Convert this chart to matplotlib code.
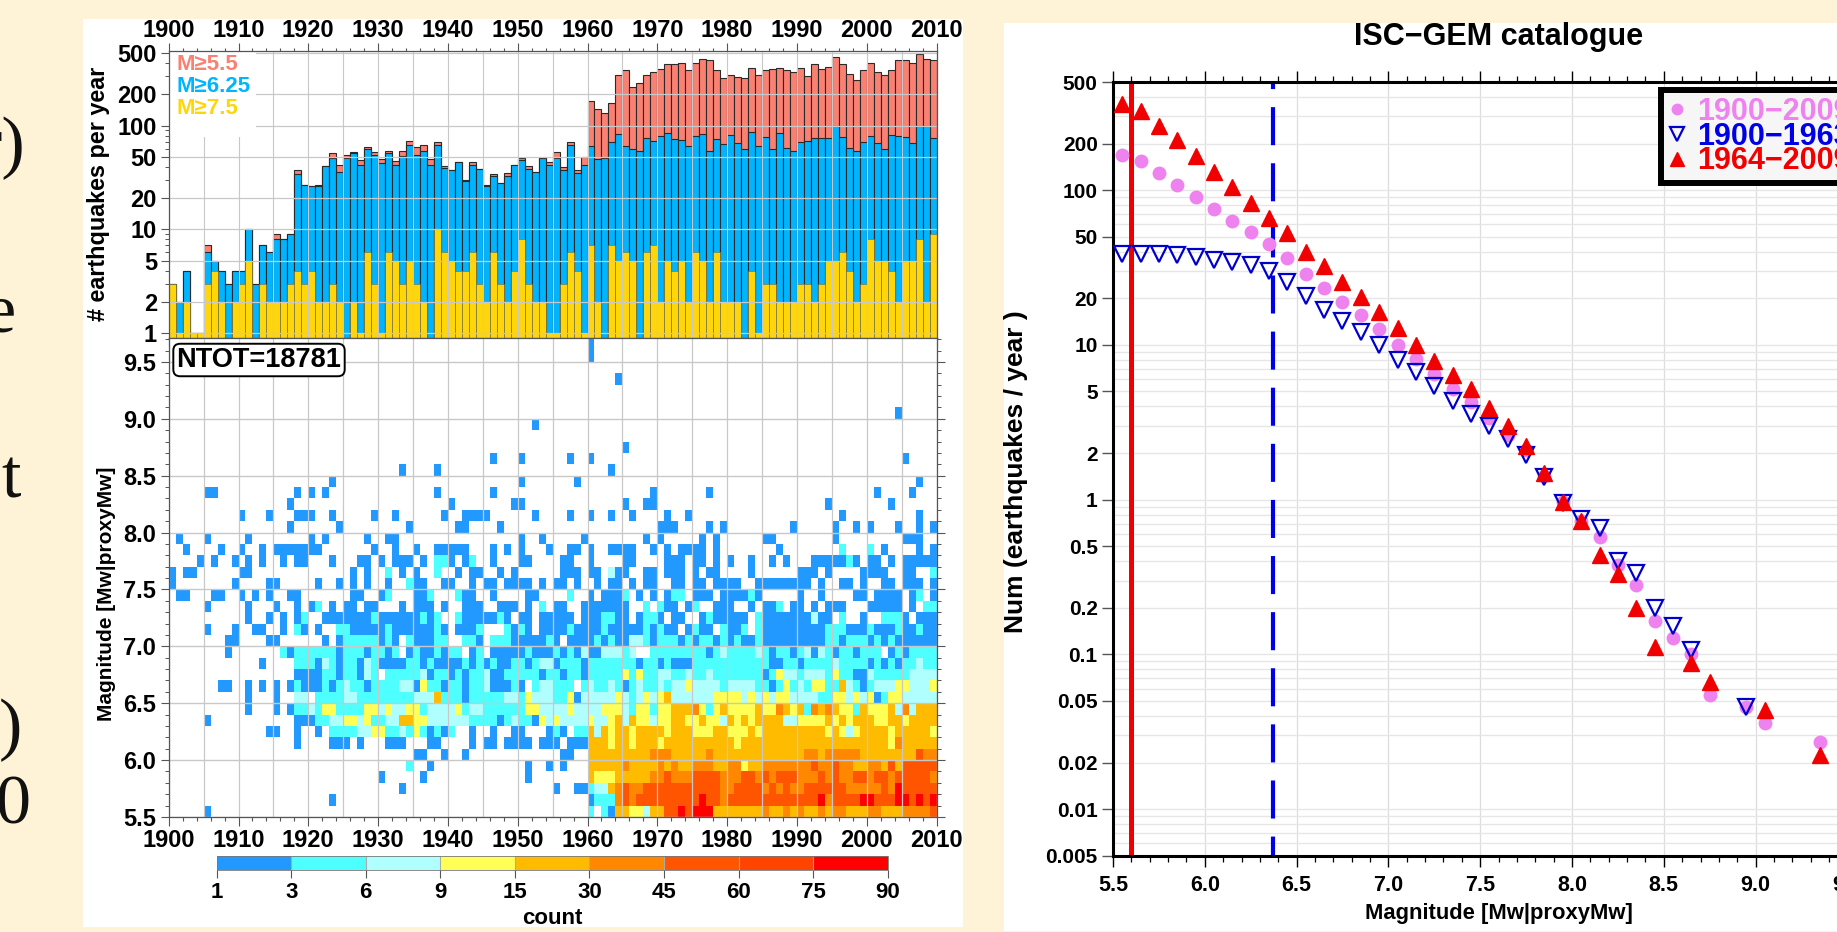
import numpy as np
import matplotlib
matplotlib.use("Agg")
import matplotlib.pyplot as plt
from matplotlib.colors import ListedColormap, BoundaryNorm
from matplotlib.cm import ScalarMappable
from matplotlib.patches import Rectangle
from matplotlib.ticker import FixedLocator, FixedFormatter, NullFormatter

plt.rcParams['font.family'] = ['Liberation Sans', 'DejaVu Sans']
plt.rcParams['font.weight'] = 'bold'
plt.rcParams['lines.scale_dashes'] = False

W, H = 1837, 932
BG = '#FEF3D7'

# ---------- annual counts ----------
years = list(range(1900, 2010))
m55 = [3,2,4,1,1,7,5,4,3,4,4,10,3,7,6,9,8,9,37,27,26,27,41,54,42,52,56,47,62,55,48,57,46,57,71,62,65,48,70,41,
       37,45,30,45,38,27,34,28,35,42,49,41,36,49,45,55,40,70,37,50,
       172,143,133,165,304,347,236,258,310,327,352,391,391,402,347,402,443,424,347,288,
       310,293,288,362,310,344,349,362,340,332,362,299,391,352,368,463,396,315,276,340,
       402,327,310,347,424,424,402,495,439,424]
m625 = [3,2,4,1,1,6,5,4,3,4,4,10,3,7,6,8,8,9,34,27,26,26,41,49,36,49,54,42,60,52,44,54,42,51,65,52,57,42,65,39,
        37,45,29,42,38,26,33,28,33,42,47,38,36,49,42,49,37,65,35,42,
        63,48,49,69,83,64,59,57,76,71,80,84,74,73,64,80,83,57,75,66,
        81,68,59,86,63,78,60,84,61,57,69,71,76,76,76,100,78,61,57,70,
        79,68,59,81,80,78,68,98,98,76]
m75 = [3,1,2,1,1,3,4,2,0,2,3,5,0,3,2,2,2,3,4,3,4,2,2,3,2,0,2,1,6,3,1,6,5,3,5,3,2,0,10,6,
       5,4,4,6,3,2,6,3,2,4,8,3,2,2,1,1,3,6,4,1,
       7,2,0,7,5,6,5,0,6,7,2,5,4,5,2,6,5,2,6,2,
       2,2,0,4,1,3,3,2,2,2,3,3,2,3,5,5,6,4,2,3,
       8,5,5,4,2,5,5,8,2,9]
series_labels = ['M≥5.5', 'M≥6.25', 'M≥7.5']

# ---------- magnitude-year cells: one code per year, codes index count_bins ----------
count_bounds = [1, 3, 6, 9, 15, 30, 45, 60, 75, 90]
row_mags = [5.5,5.6,5.7,5.8,5.9,6.0,6.1,6.2,6.3,6.4,6.5,6.6,6.7,6.8,6.9,7.0,7.1,7.2,7.3,7.4,7.5,7.6,7.7,7.8,7.9]
row_codes = [
 ".....1.... .......... .......... .......... .......... .......... 2.21554435 5779799955 5555565565 6556566555 6655566667",
 ".......... .......... ...1...... .......... .......... .......... 1222676777 7777779776 7777777777 7779677779 9777997979",
 ".......... .......... .......... ...1...... .......... .....1..11 2335676677 7777777776 6777767676 6777777666 6676977777",
 ".......... .......... .......... 1.....1... .......... .1........ 5444555556 6766677776 6677676777 6667676677 6776777776",
 ".......... .......... .......... ....2..1.. .......... .1..1.1... 5555565555 6565566655 6645566666 6676676655 6657577777",
 ".......... .......... .......... .....11..1 ..1....... ......11.. 5555555556 6655555655 5555555555 5665666665 5555555766",
 ".......... ........1. ...111.1.. .111...11. ...1.11.11 11.111.111 5554554555 4555555555 5455555555 5555555555 5554655555",
 ".......... ....11..1. .1.2222334 4223242121 2..1..1..1 1...121.22 5354554555 5455544455 4445455555 5555454345 5554555554",
 ".....1.... ........11 1223344342 2335544333 3332222123 2214343333 4334535443 4455445443 5454555533 4444545455 5445545555",
 ".......... .1...1.122 3244222244 3433442333 3423322222 2443333433 3344432442 4455564245 4444544654 5265654425 4445363555",
 ".......... .1...1..33 .222233222 2222233352 2212222233 2433322413 3333432343 4533333344 4434343443 3332244343 4124433333",
 ".......11. .1.1.1.121 1121232212 2223314221 2212231112 1.233222.2 3223212322 3233433332 3333221242 3244225321 2333443334",
 ".......... ........11 1122122132 .222223122 1212231122 2221221221 2222242422 3322322322 2222212433 2333242211 3222223333",
 ".......... ...1....22 2132122132 1111221211 1121212112 2123312221 2222222122 1211122222 2222221122 1222232222 1212122322",
 "........1. ......2122 2222122212 212.121121 22.12.1111 1211121213 1133323..2 2222222123 2222321221 2313212212 22.1212222",
 "........11 ....11.... ..1.122222 121.211122 ..221.2221 111121.111 1212113321 2221212212 1211211111 1111221222 1212111111",
 ".....1...1 ..11..1.21 .1..221111 1211111121 .1112...21 21.1111211 1121111121 211.1211.2 112.211111 1111222111 2111211211",
 ".......... .1..1.1.12 ..11111112 111111212. .21111121. 11.11111.1 112211.122 1.11..1211 111.211111 11311.2..1 ..2221.111",
 ".....1.... .1...1..1. 12.1.11.11 ...1.111.1 ..111..111 .1.2.11..1 111111..2. 211.12..11 1..1.112.1 1.1.111... 11111.1.22",
 ".11...11.. 1.1.1..11. ......11.. 12...112.. .211..1... .11....2.. 1.1112.1.1 .122.111.1 11121..... 1..1....11 .1111.12.1",
 "1........1 ....11.... .1..1.1.1. .1..211..1 1..1.11.11 11.1.11.1. .1.11.1.11 ..11.11.11 11..111111 11.1..11.1 ..11.111.1",
 "1.11...... 11........ ......1.1. .2.1.1..2. .1.11..1.1 ......111. 11.311..11 .111.1.11. ...1...... 111.1....1 111..11..2",
 "....1.1..1 .1.1..1.11 ...1...11. 1.111.1.22 1.12..1... 11....11.. 1....11... .111.11.1. 1..1..1.1. ..1111121. 11.1.11111",
 "..1....1.. 1..1.11111 11.......1 ..1..1..11 111...1.1. 1...1..11. 1..1111..1 .1.1111.1. .......1.. ......2... 2.1....1.1",
 ".1...1.... .1........ 1.1.....1. .11....... .......... 1..1.....1 ........1. 1.....1.1. .....11... .....1.... .....111..",
]
high_mags = [8.0, 8.1, 8.2, 8.3, 8.4, 8.5, 8.6, 8.7, 8.9, 9.0, 9.3, 9.5, 9.6]
high_years = [
 [1917,1924,1934,1941,1942,1947,1970,1971,1972,1977,1979,1989,1995,1998,2000,2004,2007,2009],
 [1910,1914,1918,1919,1920,1923,1929,1932,1939,1942,1943,1944,1945,1952,1957,1960,1963,1966,1971,1974,1996,2007],
 [1917,1940,1949,1950,1965,1968,1969,1994,2003],
 [1905,1906,1918,1920,1922,1938,1946,1969,1977,2001,2006],
 [1923,1950,1958,2007],
 [1933,1938,1963],
 [1946,1950,1957,1960,2005],
 [1965], [1952], [2004], [1964], [1960], [1960],
]
bin_colors = ['#2299FF','#4DFFFF','#B0FFFF','#FFFF55','#FFBB00','#FF8800','#FF5500','#FF4400','#FF0000']
code_count = {'1':2, '2':4.5, '3':7.5, '4':12, '5':22, '6':37, '7':52, '8':67, '9':82}

# ---------- magnitude-frequency ----------
mag_all = [5.55,5.65,5.75,5.85,5.95,6.05,6.15,6.25,6.35,6.45,6.55,6.65,6.75,6.85,6.95,7.05,7.15,7.25,7.35,7.45,7.55,7.65,7.75,7.85,
           7.95,8.05,8.15,8.25,8.35,8.45,8.55,8.65,8.75,8.95,9.05,9.35]
rate_all = [169,155,129,108,90,75,63,53.6,45,36.4,28.7,23.2,18.9,15.5,12.6,10,8.1,6.47,5.2,4.27,3.36,2.6,2.1,1.42,
            0.96,0.725,0.574,0.38,0.28,0.164,0.127,0.1,0.055,0.046,0.036,0.027]
mag_old = [5.55,5.65,5.75,5.85,5.95,6.05,6.15,6.25,6.35,6.45,6.55,6.65,6.75,6.85,6.95,7.05,7.15,7.25,7.35,7.45,7.55,7.65,7.75,7.85,
           7.95,8.05,8.15,8.25,8.35,8.45,8.55,8.65,8.95]
rate_old = [38.6,38.6,38.8,37.9,37.1,35.5,34.5,32.8,30.2,25.5,20.7,16.9,14.2,12.2,10,8.0,6.67,5.39,4.31,3.57,3.0,2.46,1.95,1.4,
            0.95,0.75,0.656,0.40,0.336,0.2,0.152,0.107,0.046]
mag_new = [5.55,5.65,5.75,5.85,5.95,6.05,6.15,6.25,6.35,6.45,6.55,6.65,6.75,6.85,6.95,7.05,7.15,7.25,7.35,7.45,7.55,7.65,7.75,7.85,
           7.95,8.05,8.15,8.25,8.35,8.45,8.65,8.75,9.05,9.35]
rate_new = [359,325,261,210,167,131,105,83,65.6,52.5,40,32.3,25.6,20.3,16.2,12.8,10,7.9,6.4,5.2,3.9,3.0,2.23,1.49,
            0.96,0.73,0.44,0.333,0.2,0.111,0.088,0.066,0.044,0.0225]
mag_complete = [5.6, 6.37]
y_ticks_right = [0.005,0.01,0.02,0.05,0.1,0.2,0.5,1,2,5,10,20,50,100,200,500]
y_labels_right = ['0.005','0.01','0.02','0.05','0.1','0.2','0.5','1','2','5','10','20','50','100','200','500']
y_ticks_top = [1,2,5,10,20,50,100,200,500]

# ---------- figure ----------
fig = plt.figure(figsize=(W/100, H/100), dpi=100, facecolor=BG)

def axpx(l, t, r, b, **kw):
    return fig.add_axes([l/W, 1-b/H, (r-l)/W, (b-t)/H], **kw)

def fx(x): return x/W
def fy(y): return 1-y/H

for (l, t, r, b) in [(83, 19, 963, 927), (1004, 23, W+5, 931)]:
    fig.add_artist(Rectangle((fx(l), fy(b)), (r-l)/W, (b-t)/H, transform=fig.transFigure,
                             facecolor='white', edgecolor='none', zorder=-5))

# clipped slide text at the left edge
serif = dict(family='Liberation Serif', weight='normal', fontsize=50.5, color='#111111', ha='right', va='baseline')
fig.text(fx(25), fy(165), 'r)', **serif)
fig.text(fx(15), fy(331), 'e', **serif)
fig.text(fx(21), fy(498), 't', **serif)
fig.text(fx(22), fy(747), ')', **serif)
fig.text(fx(30), fy(823), '0', **serif)

GRID = '#C8C8C8'
SP = '#555555'
L, R = 168.7, 936.5
FS = 17

# top panel
ax1 = axpx(L, 50.7, R, 338)
ax1.set_yscale('log')
ax1.set_xlim(1900, 2010)
ax1.set_ylim(0.895, 527)
base = 0.895
def bars(ax, vals, col, ec, lw, z):
    xs = [y for y, v in zip(years, vals) if v > 0]
    hs = [v-base for v in vals if v > 0]
    ax.bar(xs, hs, width=1, bottom=base, align='edge', color=col, edgecolor=ec, linewidth=lw, zorder=z)
bars(ax1, m55, '#FA8072', '#2A2A2A', 0.8, 2)
bars(ax1, m625, '#00B4FF', '#2A2A2A', 0.8, 3)
bars(ax1, m75, '#FFD60A', '#6A6A50', 0.4, 4)
ax1.set_yticks(y_ticks_top)
ax1.set_yticklabels([str(v) for v in y_ticks_top])
ax1.yaxis.set_minor_locator(FixedLocator([3,4,6,7,8,9,30,40,60,70,80,90,300,400]))
ax1.yaxis.set_minor_formatter(NullFormatter())
ax1.set_xticks(range(1900, 2011, 10))
ax1.xaxis.set_minor_locator(FixedLocator(range(1900, 2011, 2)))
ax1.tick_params(axis='x', which='major', top=True, bottom=True, labeltop=True, labelbottom=False,
                length=5.5, width=0.8, color=SP, labelsize=FS, pad=1)
ax1.tick_params(axis='x', which='minor', top=True, bottom=True, length=2.5, width=0.8, color=SP)
ax1.tick_params(axis='y', which='major', length=5.5, width=0.8, color=SP, labelsize=FS, pad=3)
ax1.tick_params(axis='y', which='minor', length=2.8, width=0.7, color=SP)
for x in range(1900, 2011, 5):
    ax1.axvline(x, color=GRID, lw=0.8, zorder=5)
for y in y_ticks_top:
    ax1.axhline(y, color=GRID, lw=0.9, zorder=5)
for s in ax1.spines.values():
    s.set_color(SP); s.set_linewidth(0.9); s.set_zorder(7)
ax1.add_patch(Rectangle((0, 0.7), 0.114, 0.3, transform=ax1.transAxes, facecolor='white', edgecolor='none', zorder=5.5))
for lab, col, py in zip(series_labels, ['#FA8072', '#00B4FF', '#FFD60A'], [65, 87, 108]):
    fig.text(fx(176), fy(py), lab, color=col, fontsize=16, va='center', ha='left', zorder=8)
fig.text(fx(99), fy(194), '# earthquakes per year', rotation=90, fontsize=16.8, ha='center', va='center')

# heat panel
ax2 = axpx(L, 338, R, 817)
yr_edges = np.arange(1900, 2011)
mag_edges = np.round(np.arange(5.5, 9.71, 0.1), 1)
cells = np.full((len(mag_edges)-1, 110), np.nan)
mag_index = lambda m: int(round((m-5.5)*10))
for m, row in zip(row_mags, row_codes):
    s = row.replace(' ', '')
    for j, ch in enumerate(s[:110]):
        if ch in code_count:
            cells[mag_index(m), j] = code_count[ch]
for m, ys in zip(high_mags, high_years):
    for y in ys:
        cells[mag_index(m), y-1900] = 2
cmap = ListedColormap(bin_colors)
cmap.set_bad('white')
norm = BoundaryNorm(count_bounds, cmap.N)
ax2.pcolormesh(yr_edges, mag_edges, np.ma.masked_invalid(cells), cmap=cmap, norm=norm, zorder=2)
ax2.set_xlim(1900, 2010)
ax2.set_ylim(5.5, 9.71)
ax2.set_xticks(range(1900, 2011, 10))
ax2.xaxis.set_minor_locator(FixedLocator(range(1900, 2011, 2)))
ax2.set_yticks([5.5, 6, 6.5, 7, 7.5, 8, 8.5, 9, 9.5])
ax2.set_yticklabels(['5.5','6.0','6.5','7.0','7.5','8.0','8.5','9.0','9.5'])
ax2.yaxis.set_minor_locator(FixedLocator(np.round(np.arange(5.5, 9.71, 0.1), 1)))
ax2.tick_params(axis='x', which='major', top=False, bottom=True, length=6.5, width=0.8, color=SP, labelsize=FS, pad=2)
ax2.tick_params(axis='x', which='minor', top=False, bottom=True, length=3, width=0.8, color=SP)
ax2.tick_params(axis='y', which='major', left=True, right=True, length=6, width=0.8, color=SP, labelsize=FS, pad=3)
ax2.tick_params(axis='y', which='minor', left=True, right=True, length=3, width=0.7, color=SP)
for x in range(1900, 2011, 5):
    ax2.axvline(x, color=GRID, lw=0.9, zorder=3)
for y in [5.5, 6, 6.5, 7, 7.5, 8, 8.5, 9, 9.5]:
    ax2.axhline(y, color=GRID, lw=1.0, zorder=3)
for s in ax2.spines.values():
    s.set_color(SP); s.set_linewidth(0.9); s.set_zorder(7)
fig.text(fx(107), fy(594), 'Magnitude [Mw|proxyMw]', rotation=90, fontsize=15, ha='center', va='center')
fig.text(fx(259), fy(360), 'NTOT=18781', fontsize=19.5, ha='center', va='center', zorder=9,
         bbox=dict(boxstyle='round,pad=0.12,rounding_size=0.25', facecolor='white', edgecolor='black', linewidth=1.4))

# colour bar
cax = axpx(216.6, 856, 887.7, 870)
cb = fig.colorbar(ScalarMappable(norm=norm, cmap=cmap), cax=cax, orientation='horizontal',
                  spacing='uniform', ticks=count_bounds, drawedges=True)
cb.ax.set_xticklabels([str(v) for v in count_bounds])
cb.ax.tick_params(length=6, width=0.8, color=SP, labelsize=16, pad=3)
cb.ax.minorticks_off()
cb.dividers.set_color('#AAAAAA'); cb.dividers.set_linewidth(0.8)
cb.outline.set_edgecolor('#777777'); cb.outline.set_linewidth(0.6)
fig.text(fx(552), fy(919), 'count', fontsize=16, ha='center', va='center')

# right panel
ax3 = axpx(1113, 82, 1113+4.5*183.6, 855.7)
ax3.set_yscale('log')
ax3.set_xlim(5.5, 10)
ax3.set_ylim(0.005, 500)
ax3.yaxis.set_major_locator(FixedLocator(y_ticks_right))
ax3.yaxis.set_major_formatter(FixedFormatter(y_labels_right))
minor_y = [k*10.0**e for e in range(-3, 3) for k in (1,2,3,4,5,6,7,8,9)]
minor_y = [v for v in minor_y if 0.005 < v < 500 and not any(abs(v-t) < 1e-9*t for t in y_ticks_right)]
ax3.yaxis.set_minor_locator(FixedLocator(minor_y))
ax3.yaxis.set_minor_formatter(NullFormatter())
ax3.set_xticks(np.arange(5.5, 9.51, 0.5))
ax3.set_xticklabels(['%.1f' % v for v in np.arange(5.5, 9.51, 0.5)])
ax3.xaxis.set_minor_locator(FixedLocator(np.round(np.arange(5.5, 10.01, 0.1), 1)))
ax3.tick_params(axis='x', which='major', top=True, bottom=True, length=8, width=1.0, color='black', labelsize=15.5, pad=6)
ax3.tick_params(axis='x', which='minor', top=True, bottom=True, length=4, width=0.9, color='black')
ax3.tick_params(axis='y', which='major', length=8, width=1.0, color='#555555', labelsize=15, pad=3)
ax3.tick_params(axis='y', which='minor', length=0)
ax3.grid(True, which='major', axis='x', color='#DDDDDD', lw=0.9, zorder=0)
ax3.grid(True, which='both', axis='y', color='#E6E6E6', lw=1.0, zorder=0)
ax3.set_axisbelow(True)
for k in ('left', 'bottom', 'top'):
    ax3.spines[k].set_linewidth(2.2); ax3.spines[k].set_color('black')
ax3.axvline(mag_complete[0], color='#F00000', lw=3.6, zorder=2)
ax3.plot([mag_complete[1]]*2, [500, 0.005], color='#0000E6', lw=3.0, zorder=2,
         linestyle=(22.3, (27.4, 13.0)), dash_capstyle='butt')
h1, = ax3.plot(mag_all, rate_all, 'o', color='#EE82EE', ms=10, mec='none', zorder=3, label='1900−2009')
h2, = ax3.plot(mag_old, rate_old, 'v', mfc='none', mec='#0000CD', mew=1.6, ms=11.5, zorder=4, label='1900−1963')
h3, = ax3.plot(mag_new, rate_new, '^', color='#F00000', mec='#F00000', ms=12, zorder=5, label='1964−2009')
leg = ax3.legend(handles=[h1, h2, h3], loc='upper left', bbox_to_anchor=(fx(1661), fy(90)), bbox_transform=fig.transFigure,
                 fontsize=22, fancybox=False, framealpha=1, facecolor='#F6F6F6', edgecolor='black',
                 labelcolor=['#EE82EE', '#0000E6', '#F00000'], handlelength=0.62, handletextpad=0.35,
                 borderpad=0.22, labelspacing=-0.17, borderaxespad=0, markerscale=0.85)
leg.get_frame().set_linewidth(4.3)
fig.text(fx(1499), fy(37), 'ISC−GEM catalogue', fontsize=22, ha='center', va='center')
fig.text(fx(1016), fy(472), 'Num (earthquakes / year )', rotation=90, fontsize=19, ha='center', va='center')
fig.text(fx(1499), fy(913), 'Magnitude [Mw|proxyMw]', fontsize=15.8, ha='center', va='center')

fig.savefig('out.png', dpi=100, facecolor=BG)
